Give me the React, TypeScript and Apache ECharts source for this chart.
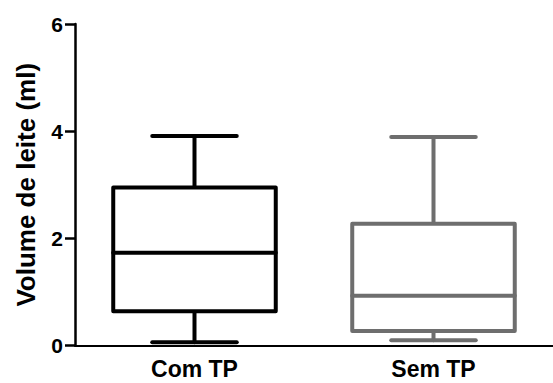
import React, { useEffect, useRef } from "react";
import * as echarts from "echarts";

const categories = ["Com TP", "Sem TP"];
const mins = [0.06, 0.1];
const q1s = [0.64, 0.27];
const medians = [1.73, 0.93];
const q3s = [2.95, 2.27];
const maxs = [3.91, 3.89];
const colors = ["#000000", "#6e6e6e"];
const yTicks = [0, 2, 4, 6];

export default function App() {
  const ref = useRef<HTMLDivElement>(null);
  useEffect(() => {
    if (!ref.current) return;
    const chart = echarts.init(ref.current, null, { renderer: "svg" });
    const data = categories.map((_, i) => [i, mins[i], q1s[i], medians[i], q3s[i], maxs[i]]);
    const font = "'Liberation Sans', Arial, sans-serif";
    chart.setOption({
      animation: false,
      backgroundColor: "#ffffff",
      grid: { left: 75, right: 0, top: 24, bottom: 37.5 },
      xAxis: {
        type: "category",
        data: categories,
        axisLine: { lineStyle: { color: "#000", width: 2 } },
        axisTick: { alignWithLabel: true, length: 10, lineStyle: { color: "#000", width: 2.5 } },
        axisLabel: { color: "#000", fontWeight: "bold", fontSize: 23, fontFamily: font, margin: 12 },
      },
      yAxis: {
        type: "value",
        min: yTicks[0],
        max: yTicks[yTicks.length - 1],
        interval: 2,
        name: "Volume de leite (ml)",
        nameLocation: "middle",
        nameRotate: 90,
        nameGap: 36,
        nameTextStyle: { color: "#000", fontWeight: "bold", fontSize: 26, fontFamily: font },
        axisLine: { show: true, lineStyle: { color: "#000", width: 2.5 } },
        axisTick: { show: true, length: 10, lineStyle: { color: "#000", width: 2.5 } },
        axisLabel: { color: "#000", fontWeight: "bold", fontSize: 21, fontFamily: font, margin: 12 },
        splitLine: { show: false },
      },
      series: [
        {
          type: "custom",
          data,
          encode: { x: 0, y: [1, 2, 3, 4, 5] },
          renderItem: (params: any, api: any) => {
            const idx = api.value(0);
            const band = api.size([1, 0])[0];
            const boxW = band * 0.68;
            const capW = boxW * 0.52;
            const pMin = api.coord([idx, api.value(1)]);
            const pQ1 = api.coord([idx, api.value(2)]);
            const pMed = api.coord([idx, api.value(3)]);
            const pQ3 = api.coord([idx, api.value(4)]);
            const pMax = api.coord([idx, api.value(5)]);
            const cx = pMed[0];
            const color = colors[idx];
            const st = { stroke: color, lineWidth: 4, fill: null, lineCap: "round", lineJoin: "round" };
            return {
              type: "group",
              children: [
                { type: "line", shape: { x1: cx, y1: pMax[1], x2: cx, y2: pQ3[1] }, style: st },
                { type: "line", shape: { x1: cx, y1: pQ1[1], x2: cx, y2: pMin[1] }, style: st },
                { type: "line", shape: { x1: cx - capW / 2, y1: pMax[1], x2: cx + capW / 2, y2: pMax[1] }, style: st },
                { type: "line", shape: { x1: cx - capW / 2, y1: pMin[1], x2: cx + capW / 2, y2: pMin[1] }, style: st },
                {
                  type: "rect",
                  shape: { x: cx - boxW / 2, y: pQ3[1], width: boxW, height: pQ1[1] - pQ3[1] },
                  style: { ...st, fill: "#ffffff" },
                },
                { type: "line", shape: { x1: cx - boxW / 2, y1: pMed[1], x2: cx + boxW / 2, y2: pMed[1] }, style: st },
              ],
            };
          },
        },
      ],
    });
    return () => chart.dispose();
  }, []);
  return (
    <div
      ref={ref}
      style={{ position: "fixed", left: 0, top: 0, width: 553, height: 383, background: "#fff" }}
    />
  );
}
